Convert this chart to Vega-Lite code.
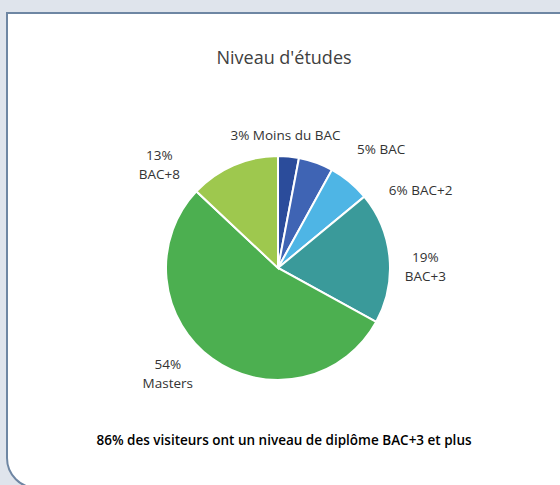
{
  "$schema": "https://vega.github.io/schema/vega-lite/v6.json",
  "width": 600,
  "height": 475,
  "autosize": {"type": "none"},
  "padding": {"left": 7, "top": 13, "right": -47, "bottom": -3},
  "background": "#dfe4ec",
  "config": {
    "view": {"fill": "white", "stroke": "#6e86a3", "strokeWidth": 2},
    "style": {"cell": {"cornerRadiusBottomLeft": 30}},
    "text": {"font": "Open Sans", "fontSize": 13.5, "fill": "#333333", "lineBreak": "\n", "lineHeight": 19, "baseline": "middle"}
  },
  "title": {
    "text": "Niveau d'études",
    "subtitle": "86% des visiteurs ont un niveau de diplôme BAC+3 et plus",
    "orient": "top",
    "anchor": "middle",
    "frame": "group",
    "offset": 0,
    "dy": 434,
    "dx": -23,
    "font": "Open Sans",
    "fontSize": 18,
    "fontWeight": "normal",
    "color": "#404040",
    "subtitleFont": "Open Sans",
    "subtitleFontSize": 13.5,
    "subtitleFontWeight": 600,
    "subtitleColor": "#000000",
    "subtitlePadding": 366
  },
  "data": {
    "values": [
      {"rank": 1, "cat": "Moins du BAC", "value": 3, "label": "3% Moins du BAC"},
      {"rank": 2, "cat": "BAC", "value": 5, "label": "5% BAC"},
      {"rank": 3, "cat": "BAC+2", "value": 6, "label": "6% BAC+2"},
      {"rank": 4, "cat": "BAC+3", "value": 19, "label": "19%\nBAC+3"},
      {"rank": 5, "cat": "Masters", "value": 54, "label": "54%\nMasters"},
      {"rank": 6, "cat": "BAC+8", "value": 13, "label": "13%\nBAC+8"}
    ]
  },
  "encoding": {
    "theta": {"field": "value", "type": "quantitative", "stack": true},
    "order": {"field": "rank", "type": "quantitative"},
    "x": {"value": 271},
    "y": {"value": 255}
  },
  "layer": [
    {
      "mark": {"type": "arc", "outerRadius": 112, "stroke": "white", "strokeWidth": 2},
      "encoding": {
        "color": {
          "field": "cat",
          "type": "nominal",
          "scale": {
            "domain": ["Moins du BAC", "BAC", "BAC+2", "BAC+3", "Masters", "BAC+8"],
            "range": ["#2b4c9b", "#3f64b4", "#4eb5e5", "#3a9a9a", "#4caf50", "#9ec84e"]
          },
          "legend": null
        }
      }
    },
    {
      "mark": {"type": "text", "radius": 133, "align": "center", "dx": -5},
      "encoding": {"text": {"condition": {"test": "datum.cat === 'Moins du BAC'", "field": "label"}, "value": ""}}
    },
    {
      "mark": {"type": "text", "radius": 130, "align": "left", "dx": 35, "dy": 4},
      "encoding": {"text": {"condition": {"test": "datum.cat === 'BAC'", "field": "label"}, "value": ""}}
    },
    {
      "mark": {"type": "text", "radius": 130, "align": "left", "dx": 28, "dy": 23},
      "encoding": {"text": {"condition": {"test": "datum.cat === 'BAC+2'", "field": "label"}, "value": ""}}
    },
    {
      "mark": {"type": "text", "radius": 145, "align": "center", "dx": 3, "dy": 4},
      "encoding": {"text": {"condition": {"test": "datum.cat === 'BAC+3'", "field": "label"}, "value": ""}}
    },
    {
      "mark": {"type": "text", "radius": 145, "align": "center", "dx": -25, "dy": -20},
      "encoding": {"text": {"condition": {"test": "datum.cat === 'Masters'", "field": "label"}, "value": ""}}
    },
    {
      "mark": {"type": "text", "radius": 145, "align": "center", "dx": -61, "dy": 21},
      "encoding": {"text": {"condition": {"test": "datum.cat === 'BAC+8'", "field": "label"}, "value": ""}}
    }
  ]
}
